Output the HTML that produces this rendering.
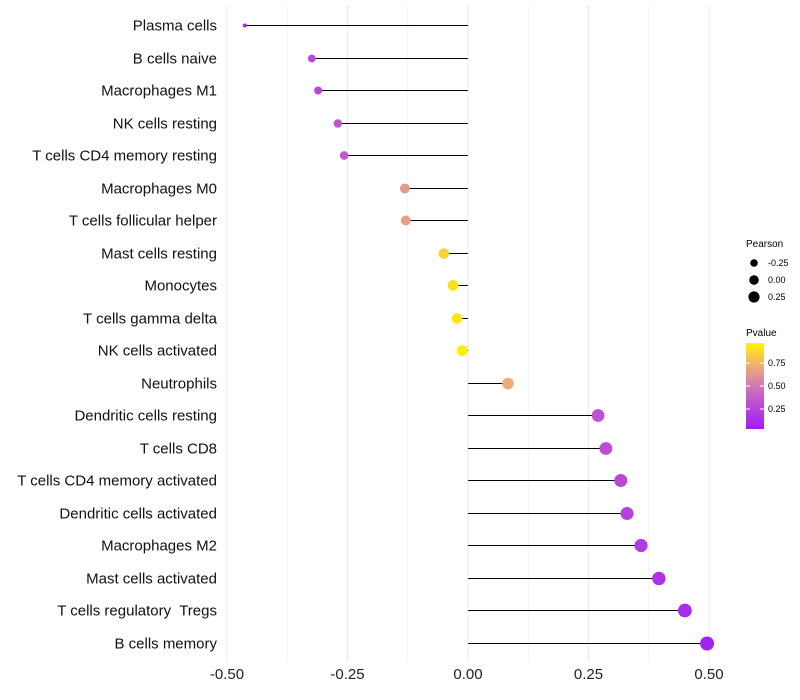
<!DOCTYPE html>
<html><head><meta charset="utf-8"><style>body{margin:0;background:#fff}svg{display:block;font-family:"Liberation Sans",sans-serif}text{white-space:pre}</style></head>
<body>
<svg id="chart" width="800" height="700">
<defs><linearGradient id="pg" x1="0" y1="1" x2="0" y2="0">
<stop offset="0" stop-color="#A020F0"/><stop offset="0.26" stop-color="#B848D8"/><stop offset="0.5" stop-color="#D078B8"/><stop offset="0.75" stop-color="#F0B070"/><stop offset="1" stop-color="#FFF500"/></linearGradient></defs>
<g id="grid"></g><g id="marks"></g><g id="labels"></g>
<g font-size="9">
<text x="746" y="247" font-size="10">Pearson</text>
<circle cx="754" cy="263" r="3.8" fill="#000"/><text x="768" y="266">-0.25</text>
<circle cx="754" cy="280" r="4.8" fill="#000"/><text x="768" y="283">0.00</text>
<circle cx="754" cy="297" r="5.6" fill="#000"/><text x="768" y="300">0.25</text>
</g>
<g font-size="9">
<text x="746" y="336" font-size="10">Pvalue</text>
<rect x="746" y="343" width="18" height="86" fill="url(#pg)"/>
<line x1="746" x2="750" y1="363" y2="363" stroke="#fff"/><line x1="760" x2="764" y1="363" y2="363" stroke="#fff"/>
<line x1="746" x2="750" y1="386" y2="386" stroke="#fff"/><line x1="760" x2="764" y1="386" y2="386" stroke="#fff"/>
<line x1="746" x2="750" y1="409" y2="409" stroke="#fff"/><line x1="760" x2="764" y1="409" y2="409" stroke="#fff"/>
<text x="768" y="366">0.75</text><text x="768" y="389">0.50</text><text x="768" y="412">0.25</text>
</g>
</svg>
<script>
const cells=["Plasma cells","B cells naive","Macrophages M1","NK cells resting","T cells CD4 memory resting","Macrophages M0","T cells follicular helper","Mast cells resting","Monocytes","T cells gamma delta","NK cells activated","Neutrophils","Dendritic cells resting","T cells CD8","T cells CD4 memory activated","Dendritic cells activated","Macrophages M2","Mast cells activated","T cells regulatory  Tregs","B cells memory"];
const pearson=[-0.463,-0.324,-0.311,-0.270,-0.257,-0.131,-0.129,-0.050,-0.031,-0.023,-0.012,0.083,0.270,0.286,0.317,0.330,0.359,0.396,0.450,0.496];
const pvalue=[0.08,0.28,0.27,0.33,0.36,0.65,0.66,0.85,0.90,0.92,0.95,0.72,0.32,0.30,0.27,0.24,0.2,0.15,0.1,0.05];
const ticks=[-0.5,-0.25,0,0.25,0.5];
const tickLabels=["-0.50","-0.25","0.00","0.25","0.50"];
const NS="http://www.w3.org/2000/svg";
const x=v=>468+v*482, y=i=>Math.round(25+i*32.5)+0.5;
const rad=v=>2+5*Math.sqrt(Math.max(0,(v+0.463)/0.96));
const stops=[[0,[160,32,240]],[0.26,[184,72,216]],[0.5,[208,120,184]],[0.75,[240,176,112]],[1,[255,245,0]]];
function col(p){let t=(p-0.03)/0.94;t=Math.max(0,Math.min(1,t));for(let k=1;k<stops.length;k++){if(t<=stops[k][0]){const a=stops[k-1],b=stops[k],f=(t-a[0])/(b[0]-a[0]);return "rgb("+a[1].map((c,j)=>Math.round(c+(b[1][j]-c)*f)).join(",")+")";}}}
function mk(tag,at,par){const e=document.createElementNS(NS,tag);for(const k in at)e.setAttribute(k,at[k]);document.getElementById(par).appendChild(e);return e;}
for(let v=-0.5;v<=0.501;v+=0.125){const g=mk("line",{x1:x(v),x2:x(v),y1:5,y2:662,stroke:Math.abs((v*4)%1)<1e-6?"#ebebeb":"#f4f4f4","stroke-width":1},"grid");}
ticks.forEach((t,i)=>{const e=mk("text",{x:x(t),y:679,"text-anchor":"middle","font-size":15,fill:"#222"},"labels");e.textContent=tickLabels[i];});
cells.forEach((c,i)=>{
const t=mk("text",{x:217,y:y(i)+5,"text-anchor":"end","font-size":15,fill:"#111"},"labels");t.textContent=c;

const l=mk("line",{x1:x(0),x2:x(pearson[i]),y1:y(i),y2:y(i),stroke:"#000","stroke-width":1},"marks");

const d=mk("circle",{cx:x(pearson[i]),cy:y(i),r:rad(pearson[i]),fill:col(pvalue[i])},"marks");

});
</script>
</body></html>
